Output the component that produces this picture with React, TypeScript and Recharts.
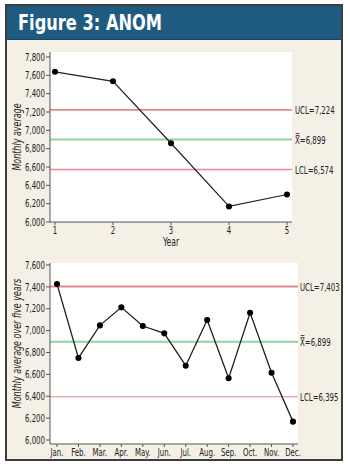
import React from "react";
import {
  LineChart, Line, XAxis, YAxis, CartesianGrid, ReferenceLine,
} from "recharts";

const years = [1, 2, 3, 4, 5];
const yearAverages = [7638, 7535, 6859, 6170, 6300];
const yearTicks = [6000, 6200, 6400, 6600, 6800, 7000, 7200, 7400, 7600, 7800];
const yearLimits = { ucl: 7224, mean: 6899, lcl: 6574 };

const months = ["Jan.", "Feb.", "Mar.", "Apr.", "May.", "Jun.", "Jul.", "Aug.", "Sep.", "Oct.", "Nov.", "Dec."];
const monthAverages = [7426, 6750, 7048, 7213, 7042, 6975, 6679, 7097, 6564, 7164, 6615, 6168];
const monthTicks = [6000, 6200, 6400, 6600, 6800, 7000, 7200, 7400, 7600];
const monthLimits = { ucl: 7403, mean: 6899, lcl: 6395 };

const FONT = "'DejaVu Sans Condensed', 'Liberation Sans Narrow', sans-serif";
const RED = "#e48891";
const GREEN = "#8fd3a1";
const INK = "#222";
const BEIGE = "#f4f0e6";
const SQUEEZE = 0.74; // the original uses a tall, narrow face

const fmt = (v: number) => v.toLocaleString("en-US");

const yearData = years.map((y, i) => ({ year: y, avg: yearAverages[i] }));
const monthData = months.map((m, i) => ({ month: m, avg: monthAverages[i] }));

// text squeezed horizontally, optionally rotated
function Narrow({ x, y, anchor = "middle", dy = "0.35em", rotate = 0, size = 10.5, italic = false, children }: any) {
  return (
    <g transform={`translate(${x},${y}) rotate(${rotate}) scale(${SQUEEZE},1)`}>
      <text textAnchor={anchor} dy={dy} fill={INK} fontSize={size} fontFamily={FONT}
        fontStyle={italic ? "italic" : "normal"}>{children}</text>
    </g>
  );
}

const YTick = ({ x, y, payload }: any) => <Narrow x={x} y={y} anchor="end">{fmt(payload.value)}</Narrow>;
const XTick = ({ x, y, payload }: any) => <Narrow x={x} y={y} dy="0.75em">{payload.value}</Narrow>;

const limitLabel = (text: string, gap: number) => ({
  content: ({ viewBox }: any) => (
    <Narrow x={viewBox.x + viewBox.width + gap} y={viewBox.y + 1} anchor="start" size={10.5}>{text}</Narrow>
  ),
});

const yLabel = (text: string, shift: number) => ({
  content: ({ viewBox }: any) => (
    <Narrow x={viewBox.x + 17} y={viewBox.y + viewBox.height / 2 + shift} rotate={-90} size={12} italic>{text}</Narrow>
  ),
});

export default function App() {
  return (
    <div style={{ position: "absolute", left: 0, top: 0, width: 350, height: 467, background: "#fff" }}>
      <div style={{
        position: "absolute", left: 5, top: 4, width: 338, height: 457, boxSizing: "border-box",
        border: "2px solid #3d3d3d", background: BEIGE,
      }}>
        <div style={{
          height: 33, background: "#1f5b80", color: "#fff", fontFamily: FONT, fontWeight: 700,
          fontSize: 22, lineHeight: "33px", paddingLeft: 11, borderBottom: "1px solid #174661",
        }}>
          <span style={{ display: "inline-block", transform: "scaleX(0.82)", transformOrigin: "left" }}>
            Figure 3: ANOM
          </span>
        </div>
      </div>

      <div style={{ position: "absolute", left: 0, top: 0 }}>
        <LineChart width={350} height={252} data={yearData} margin={{ top: 52, right: 58, left: 0, bottom: 2 }}>
          <CartesianGrid horizontal={false} vertical={false} fill="#fff" />
          <XAxis
            dataKey="year" type="number" domain={[1, 5]} ticks={years} padding={{ left: 5, right: 5 }}
            height={28} tick={<XTick />} tickSize={3} tickMargin={1} interval={0}
            axisLine={{ stroke: "#555" }} tickLine={{ stroke: "#555" }}
            label={{ content: ({ viewBox }: any) => (
              <Narrow x={viewBox.x + viewBox.width / 2} y={viewBox.y + 20} size={11.5}>Year</Narrow>
            ) }}
          />
          <XAxis xAxisId="top" orientation="top" dataKey="year" type="number" domain={[1, 5]} height={0}
            tick={false} tickLine={false} axisLine={{ stroke: "#b5b5b5" }} />
          <YAxis
            domain={[6000, 7800]} ticks={yearTicks} width={50} padding={{ top: 5 }} interval={0}
            tick={<YTick />} tickSize={4} tickMargin={1}
            axisLine={{ stroke: "#555" }} tickLine={{ stroke: "#555" }}
            label={yLabel("Monthly average", 0)}
          />
          <YAxis yAxisId="right" orientation="right" domain={[6000, 7800]} width={0}
            tick={false} tickLine={false} axisLine={{ stroke: "#b5b5b5" }} />
          <ReferenceLine y={yearLimits.ucl} stroke={RED} strokeWidth={1.8} label={limitLabel("UCL=7,224", 3)} />
          <ReferenceLine y={yearLimits.mean} stroke={GREEN} strokeWidth={2} label={limitLabel("X\u033F=6,899", 3)} />
          <ReferenceLine y={yearLimits.lcl} stroke={RED} strokeWidth={1.5} label={limitLabel("LCL=6,574", 3)} />
          <Line dataKey="avg" stroke={INK} strokeWidth={1.2} isAnimationActive={false}
            dot={{ r: 2.4, fill: "#000", stroke: "#000" }} />
        </LineChart>
      </div>

      <div style={{ position: "absolute", left: 0, top: 252 }}>
        <LineChart width={350} height={215} data={monthData} margin={{ top: 11, right: 52, left: 0, bottom: 5 }}>
          <CartesianGrid horizontal={false} vertical={false} fill="#fff" />
          <XAxis
            dataKey="month" padding={{ left: 7, right: 5 }} interval={0}
            height={18} tick={<XTick />} tickSize={3} tickMargin={1}
            axisLine={{ stroke: "#555" }} tickLine={{ stroke: "#555" }}
          />
          <XAxis xAxisId="top" orientation="top" dataKey="month" height={0}
            tick={false} tickLine={false} axisLine={{ stroke: "#b5b5b5" }} />
          <YAxis
            domain={[6000, 7600]} ticks={monthTicks} width={50} padding={{ top: 2, bottom: 4 }} interval={0}
            tick={<YTick />} tickSize={4} tickMargin={1}
            axisLine={{ stroke: "#555" }} tickLine={{ stroke: "#555" }}
            label={yLabel("Monthly average over five years", -10)}
          />
          <YAxis yAxisId="right" orientation="right" domain={[6000, 7600]} width={0}
            tick={false} tickLine={false} axisLine={{ stroke: "#b5b5b5" }} />
          <ReferenceLine y={monthLimits.ucl} stroke={RED} strokeWidth={2} label={limitLabel("UCL=7,403", 2)} />
          <ReferenceLine y={monthLimits.mean} stroke={GREEN} strokeWidth={2} label={limitLabel("X\u033F=6,899", 2)} />
          <ReferenceLine y={monthLimits.lcl} stroke={RED} strokeWidth={1} label={limitLabel("LCL=6,395", 2)} />
          <Line dataKey="avg" stroke={INK} strokeWidth={1.3} isAnimationActive={false}
            dot={{ r: 2.4, fill: "#000", stroke: "#000" }} />
        </LineChart>
      </div>
    </div>
  );
}
